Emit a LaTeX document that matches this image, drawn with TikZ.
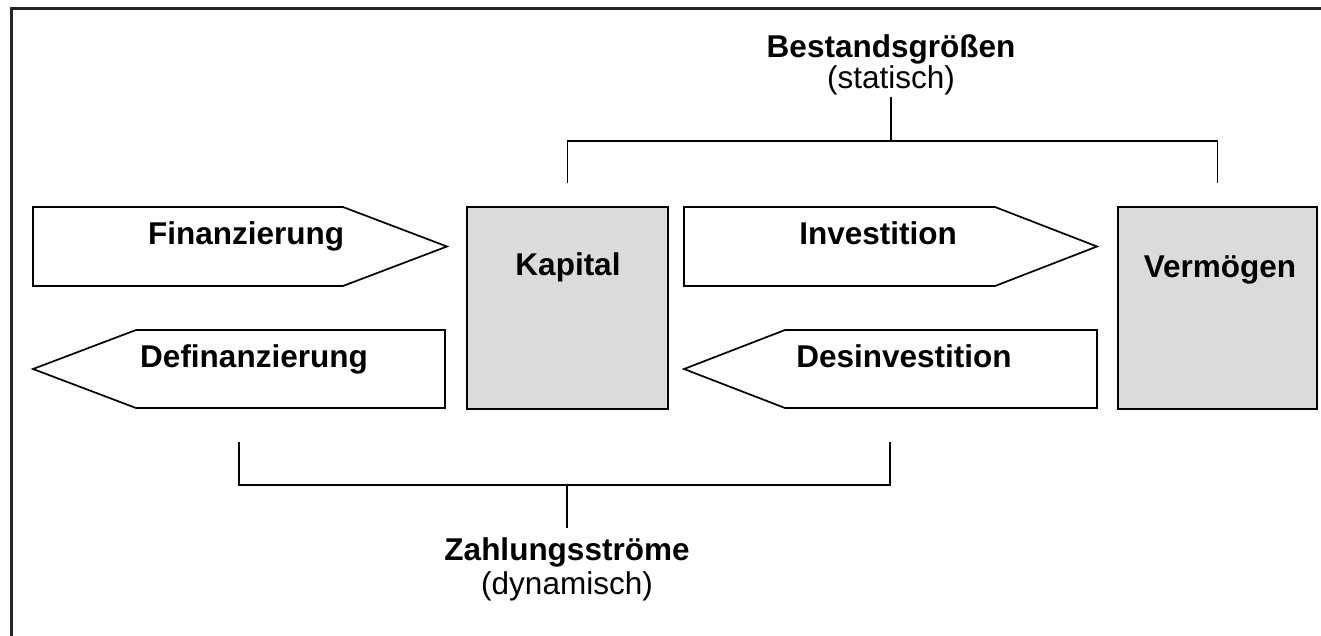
\documentclass[tikz,border=0pt]{standalone}
\usepackage{fontspec}
\setmainfont{Liberation Sans}
\usetikzlibrary{calc}
\begin{document}
\begin{tikzpicture}[x=1pt,y=-1pt,
  flowshape/.style={draw=black, line width=1.7pt, fill=white, line join=miter},
  stockbox/.style={draw=black, line width=1.8pt, fill=gray!28, rectangle, inner sep=0pt},
  bracket/.style={draw=black, line width=1.7pt},
  boldlabel/.style={font=\fontsize{31.5}{36}\selectfont\bfseries, inner sep=0pt, anchor=base},
  plainlabel/.style={font=\fontsize{31.5}{36}\selectfont, inner sep=0pt, anchor=base}]
  \useasboundingbox (0,0) rectangle (1321,636);

  % frame (left and top edges)
  \draw[line width=2.6pt, draw=black!85] (11.5,636) -- (11.5,8.5) -- (1321,8.5);

  % stock boxes
  \node[stockbox, minimum width=201pt, minimum height=202pt] (kap) at (567.5,308) {};
  \node[stockbox, minimum width=199pt, minimum height=202pt] (verm) at (1217.5,308) {};
  \node[boldlabel] (kaptext) at (568,275) {Kapital};
  \node[boldlabel] (vermtext) at (1220,277) {Vermögen};

  % flow arrows
  \draw[flowshape] (33,207) -- (343,207) -- (447,246.5) -- (343,286) -- (33,286) -- cycle;
  \draw[flowshape] (445,330) -- (136,330) -- (33,369) -- (136,408) -- (445,408) -- cycle;
  \draw[flowshape] (684,207) -- (995,207) -- (1097,246.5) -- (995,286) -- (684,286) -- cycle;
  \draw[flowshape] (1097,330) -- (785,330) -- (684,369) -- (785,408) -- (1097,408) -- cycle;
  \coordinate (definB) at (239,408);
  \coordinate (desinvB) at (890,408);

  \node[boldlabel] (fin) at (246,244) {Finanzierung};
  \node[boldlabel] (defin) at (254,367) {Definanzierung};
  \node[boldlabel] (inv) at (878,244) {Investition};
  \node[boldlabel] (desinv) at (904,367) {Desinvestition};

  % group labels
  \node[boldlabel] (best) at (891,58) {Bestandsgrößen};
  \node[plainlabel] (stat) at (891,89) {(statisch)};
  \node[boldlabel] (zahl) at (567,560) {Zahlungsströme};
  \node[plainlabel] (dyn) at (567,594) {(dynamisch)};

  % bracket over the stocks
  \coordinate (topbar) at (891,141);
  \draw[bracket] ($(kap.north)+(0,-23)$) |- (topbar) -| ($(verm.north)+(0,-23)$);
  \draw[bracket] (topbar) -- (891,97);

  % bracket under the flows
  \coordinate (botbar) at (567,485);
  \draw[bracket] ($(definB)+(0,34)$) |- (botbar) -| ($(desinvB)+(0,34)$);
  \draw[bracket] (botbar) -- (567,528);
\end{tikzpicture}
\end{document}
